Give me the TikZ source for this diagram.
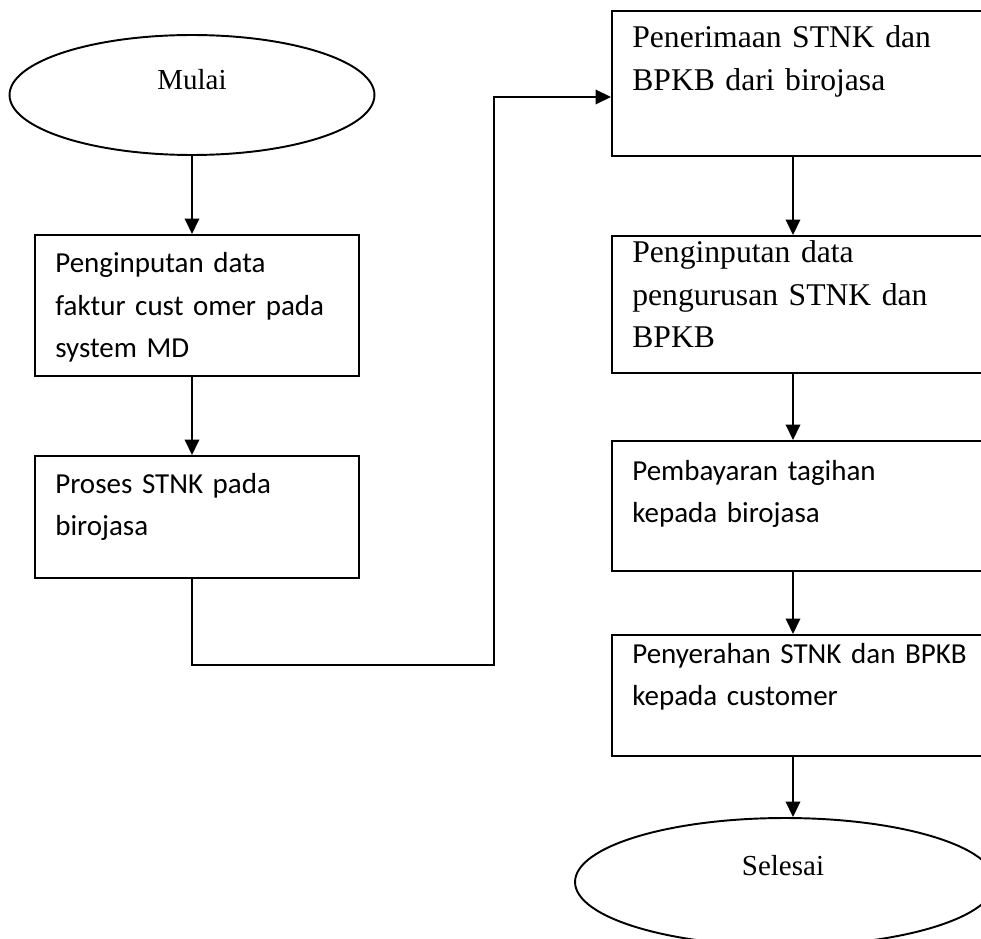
\documentclass[tikz,border=0pt]{standalone}
\usepackage{fontspec}
\setmainfont{Liberation Serif}
\newfontfamily\calibri{Carlito}
\usetikzlibrary{arrows.meta}
\usetikzlibrary{shapes.geometric}
\tikzset{
terminal/.style = { ellipse, draw = black, line width = 1.1pt, fill = white, inner sep = 0pt, font = \fontsize{16.5}{20}\selectfont },
process/.style = { rectangle, draw = black, line width = 1.1pt, fill = white, anchor = north west, inner sep = 0pt },
sans text/.style = { anchor = base west, inner sep = 0pt, align = left, text width = 7cm, font = \calibri\fontsize{16.5}{24}\selectfont },
serif text/.style = { anchor = base west, inner sep = 0pt, align = left, text width = 7cm, font = \fontsize{18}{24}\selectfont },
flow/.style = { draw = black, line width = 1.1pt, -{Triangle[length = 3.1mm, width = 2.9mm]} },
}

\begin{document}
\begin{tikzpicture}[x = 0.02cm, y = -0.02cm]
      \useasboundingbox (0, 0) rectangle (981, 939);
      \clip (0, 0) rectangle (981, 939);
      % left column
      \node[terminal, minimum width = 7.3cm, minimum height = 2.4cm] (mulai) at (192, 95) {};
      \node[anchor = base, inner sep = 0pt, font = \fontsize{16.5}{20}\selectfont] (mulai text) at (192, 90) {Mulai};
      \node[process, minimum width = 6.48cm, minimum height = 2.82cm] (input) at (34, 234) {};
      \node[sans text] (input text) at (55, 273) {Penginputan data\\faktur cust omer pada\\system MD};
      \node[process, minimum width = 6.48cm, minimum height = 2.44cm] (proses) at (34, 455) {};
      \node[sans text] (proses text) at (55, 493) {Proses STNK pada\\birojasa};
      % right column
      \node[process, minimum width = 7.9cm, minimum height = 2.9cm] (terima) at (611, 10) {};
      \node[serif text] (terima text) at (632, 48) {Penerimaan STNK dan\\BPKB dari birojasa};
      \node[process, minimum width = 7.9cm, minimum height = 2.74cm] (urus) at (611, 235) {};
      \node[serif text] (urus text) at (632, 263) {Penginputan data\\pengurusan STNK dan\\BPKB};
      \node[process, minimum width = 7.9cm, minimum height = 2.6cm] (bayar) at (611, 440) {};
      \node[sans text] (bayar text) at (632, 480) {Pembayaran tagihan\\kepada birojasa};
      \node[process, minimum width = 7.9cm, minimum height = 2.42cm] (serah) at (611, 634) {};
      \node[sans text] (serah text) at (632, 663) {Penyerahan STNK dan BPKB\\kepada customer};
      \node[terminal, minimum width = 8.4cm, minimum height = 2.56cm] (selesai) at (785, 882) {};
      \node[anchor = base, inner sep = 0pt, font = \fontsize{16.5}{20}\selectfont] (selesai text) at (783, 875) {Selesai};
      % connectors
      \coordinate (turn a) at (192, 665);
      \coordinate (turn b) at (494, 665);
      \coordinate (turn c) at (494, 97);
      \coordinate (spine) at (793, 0);
      \path[flow] (mulai.south) -- (input.north -| mulai.south);
      \path[flow] (input.south -| mulai.south) -- (proses.north -| mulai.south);
      \path[flow] (proses.south -| turn a) -- (turn a) -- (turn b) -- (turn c) -- (turn c -| terima.west);
      \path[flow] (terima.south -| spine) -- (urus.north -| spine);
      \path[flow] (urus.south -| spine) -- (bayar.north -| spine);
      \path[flow] (bayar.south -| spine) -- (serah.north -| spine);
      \path[flow] (serah.south -| spine) -- (selesai.north -| spine);
    \end{tikzpicture}
\end{document}
